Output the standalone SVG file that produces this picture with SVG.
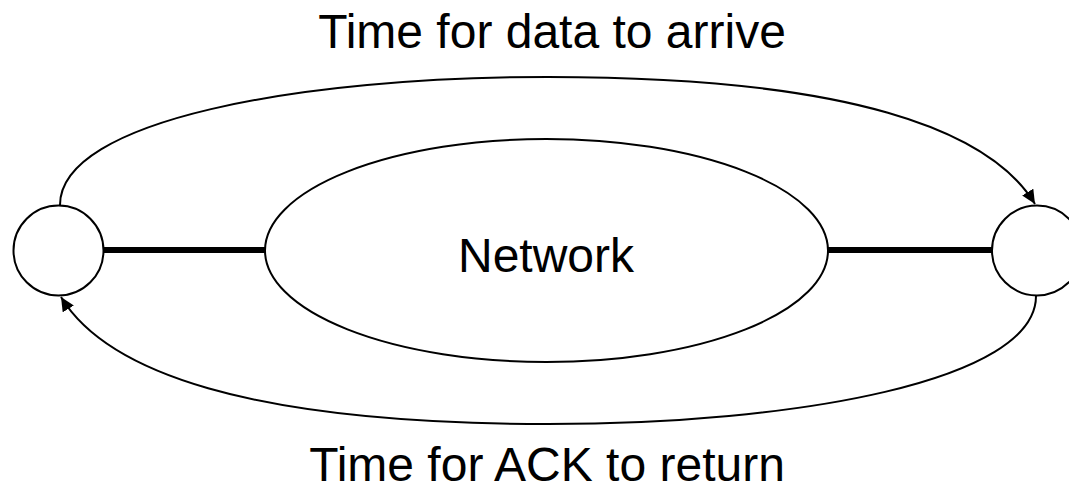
<svg xmlns="http://www.w3.org/2000/svg" width="1069" height="496" viewBox="0 0 1069 496">
  <defs>
    <marker id="arrow" markerUnits="userSpaceOnUse" markerWidth="16" markerHeight="14" refX="14" refY="6.5" orient="auto">
      <path d="M0,0 L14,6.5 L0,13 z" fill="#000"/>
    </marker>
    <style>
      .node { fill: #fff; stroke: #000; stroke-width: 2; }
      .link { fill: none; stroke: #000; stroke-width: 6; }
      .arc { fill: none; stroke: #000; stroke-width: 2; marker-end: url(#arrow); }
      .label { font-family: "Liberation Sans", Arial, sans-serif; font-size: 48px; fill: #000; text-anchor: middle; }
    </style>
  </defs>
  <rect width="1069" height="496" fill="#fff"/>
  <g id="connectors">
    <line class="link" x1="103" y1="250" x2="265" y2="250"/>
    <line class="link" x1="828" y1="250" x2="992" y2="250"/>
    <path class="arc" d="M60,205 C60,120 300,77 548,77 C850,77 990,130 1035,204"/>
    <path class="arc" d="M1036,296 C1036,381 796,424 548,424 C246,424 106,371 61,297"/>
  </g>
  <g id="network">
    <ellipse class="node" cx="546.5" cy="250.5" rx="281.5" ry="111.5"/>
    <text class="label" x="546" y="272">Network</text>
  </g>
  <g id="sender">
    <circle class="node" cx="58.5" cy="250.5" r="45"/>
  </g>
  <g id="receiver">
    <circle class="node" cx="1037" cy="250.5" r="45"/>
  </g>
  <g id="labels">
    <text class="label" x="552" y="48">Time for data to arrive</text>
    <text class="label" x="547" y="481">Time for ACK to return</text>
  </g>
</svg>
